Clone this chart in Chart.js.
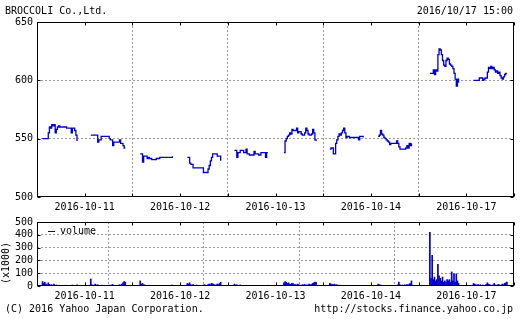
<!DOCTYPE html>
<html><head><meta charset="utf-8">
<script src="https://cdn.jsdelivr.net/npm/chart.js@4/dist/chart.umd.min.js"></script>
<style>
html,body{margin:0;padding:0;background:#fff;}
body{width:521px;height:319px;position:relative;overflow:hidden;font-family:"DejaVu Sans Mono",monospace;font-size:10px;color:#000;}
.t{position:absolute;white-space:nowrap;line-height:10px;}
#c1{position:absolute;left:0;top:0;}
#c2{position:absolute;left:0;top:212px;}
</style></head><body>
<canvas id="c1" width="521" height="212"></canvas>
<canvas id="c2" width="521" height="107"></canvas>
<div class="t" style="left:5px;top:6px">BROCCOLI Co.,Ltd.</div>
<div class="t" style="right:8px;top:6px">2016/10/17 15:00</div>
<div class="t" style="left:-15px;top:258px;transform:rotate(-90deg);">(x1000)</div>
<div style="position:absolute;left:48px;top:231px;width:7px;height:1px;background:#0000cc"></div>
<div class="t" style="left:60px;top:226px">volume</div>
<div class="t" style="left:5px;top:304px">(C) 2016 Yahoo Japan Corporation.</div>
<div class="t" style="right:8px;top:304px">http://stocks.finance.yahoo.co.jp</div>
<script>
const dayLabels = ['2016-10-11','2016-10-12','2016-10-13','2016-10-14','2016-10-17'];
const priceTicks = [500, 550, 600, 650];
const volumeTicks = [0, 100, 200, 300, 400, 500];

// 5-minute prices, AM 9:00-11:30, PM 12:30-15:00 (yen)
const price1011am = [550,550,550,550,550,555,560,559,562,561,562,555,558,560,561,560,560,560,560,560,560,559,559,559,559,555,559,559,557,553,548];
const price1011pm = [553,553,553,553,553,553,547,549,549,552,552,552,552,552,552,552,550,549,549,544,547,547,547,547,547,549,546,546,544,542,542];
const price1012am = [null,null,537,537,530,535,535,535,533,534,533,533,532,532,532,532,533,533,533,534,534,534,534,534,534,534,534,534,534,534,535];
const price1012pm = [null,534,534,529,528,528,525,525,525,525,525,525,525,525,525,521,521,521,521,524,527,531,534,537,537,537,537,535,535,535,531];
const price1013am = [null,540,540,534,538,538,540,540,540,538,538,541,537,537,536,536,536,536,539,537,537,537,536,536,538,538,538,538,534,538,538];
const price1013pm = [null,null,538,548,550,552,553,555,554,558,557,557,557,559,555,556,556,554,553,553,555,559,557,554,553,553,554,558,555,549,548];
const price1014am = [null,541,542,542,537,537,546,549,552,554,553,555,557,559,555,551,552,552,551,551,551,551,551,551,551,551,549,552,552,552,551];
const price1014pm = [null,552,553,557,554,553,551,550,549,548,547,545,546,546,546,546,546,548,546,543,541,541,541,541,541,542,544,542,546,544,546];
const price1017am = [null,null,null,null,null,606,606,606,609,605,609,608,622,627,626,622,617,613,612,617,619,618,614,613,612,610,606,601,595,601,598];
const price1017pm = [null,600,600,600,600,600,602,602,602,600,601,602,602,607,611,610,612,610,611,609,607,608,606,607,604,602,601,603,605,606,606];

// 5-minute volume (x1000 shares)
const vol1011am = [35,20,30,15,10,25,12,8,10,6,15,5,8,4,6,3,5,2,4,3,6,2,5,3,4,2,8,5,3,6,10];
const vol1011pm = [55,10,5,8,15,6,10,4,5,3,6,4,3,5,2,4,6,3,8,12,5,4,6,3,5,10,8,15,25,35,30];
const vol1012am = [null,null,40,15,20,10,8,6,5,4,6,3,5,4,3,2,4,3,2,5,3,2,4,2,3,5,2,3,4,6,8];
const vol1012pm = [null,20,15,25,10,8,12,6,5,8,4,6,5,3,4,8,10,6,5,12,15,10,20,18,12,8,10,15,12,20,30];
const vol1013am = [null,15,8,10,6,5,8,4,3,5,4,6,3,4,2,3,5,2,4,3,2,3,4,2,3,5,2,3,4,3,6];
const vol1013pm = [null,null,25,35,30,20,25,15,12,20,18,10,12,8,15,10,8,6,10,8,12,6,10,8,15,10,12,20,25,30,28];
const vol1014am = [null,20,15,12,10,15,8,10,6,8,5,6,4,3,5,2,3,4,2,3,2,4,3,2,3,2,4,3,5,3,4];
const vol1014pm = [null,15,10,8,6,5,4,6,3,5,4,3,2,4,3,5,4,6,8,30,10,6,8,5,10,6,12,8,15,20,40];
const vol1017am = [null,null,null,null,null,420,60,240,50,70,40,50,170,80,60,40,70,30,40,30,50,40,50,30,110,40,95,30,95,40,20];
const vol1017pm = [null,20,15,10,8,12,6,10,5,8,4,6,12,25,15,10,8,6,10,20,8,6,10,12,6,8,15,10,20,25,30];

const priceSessions = [[price1011am,price1011pm],[price1012am,price1012pm],[price1013am,price1013pm],[price1014am,price1014pm],[price1017am,price1017pm]];
const volSessions = [[vol1011am,vol1011pm],[vol1012am,vol1012pm],[vol1013am,vol1013pm],[vol1014am,vol1014pm],[vol1017am,vol1017pm]];

const DAY = 415, OPEN = 24, PM_OFF = 210, STEP = 5;
function toPoints(sessions, breaks){
  const pts = [];
  sessions.forEach((day, d) => {
    day.forEach((arr, s) => {
      arr.forEach((v, k) => pts.push({x: d*DAY + OPEN + s*PM_OFF + k*STEP, y: v}));
      if (breaks) pts.push({x: d*DAY + OPEN + s*PM_OFF + arr.length*STEP - 2, y: null});
    });
  });
  return pts;
}

Chart.defaults.font.family = '"DejaVu Sans Mono", monospace';
Chart.defaults.font.size = 10;
Chart.defaults.color = '#000';
Chart.defaults.animation = false;

const frame = {
  id: 'frame',
  afterDraw(chart){
    const {ctx, chartArea: a, scales} = chart;
    const L = Math.round(a.left)+0.5, R = Math.round(a.right)-0.5, T = Math.round(a.top)+0.5, B = Math.round(a.bottom)-0.5;
    ctx.save();
    ctx.strokeStyle = '#000'; ctx.lineWidth = 1;
    ctx.strokeRect(L, T, R-L, B-T);
    ctx.beginPath();
    scales.x.ticks.forEach(t => {
      const x = Math.round(scales.x.getPixelForValue(t.value))+0.5;
      ctx.moveTo(x, T); ctx.lineTo(x, T+3);
      ctx.moveTo(x, B); ctx.lineTo(x, B-3);
    });
    scales.y.ticks.forEach(t => {
      const y = Math.round(scales.y.getPixelForValue(t.value))+0.5;
      ctx.moveTo(L, y); ctx.lineTo(L+3, y);
      ctx.moveTo(R, y); ctx.lineTo(R-3, y);
    });
    ctx.stroke();
    ctx.restore();
  }
};

function xScale(h){
  return {
    type: 'linear', min: 0, max: 5*DAY, offset: false,
    afterBuildTicks: s => { s.ticks = Array.from({length: 11}, (_, i) => ({value: i*DAY/2})); },
    afterFit: s => { s.height = h; },
    ticks: { autoSkip: false, maxRotation: 0, padding: 4, callback: (v, i) => i % 2 === 1 ? dayLabels[(i-1)/2] : '' },
    grid: { drawTicks: false, lineWidth: 1, color: c => (c.index % 2 === 0 && c.index > 0 && c.index < 10) ? '#999' : 'rgba(0,0,0,0)' },
    border: { display: false, dash: [2, 2] }
  };
}
function yScale(min, max, ticks){
  return {
    min, max,
    afterBuildTicks: s => { s.ticks = ticks.map(v => ({value: v})); },
    afterFit: s => { s.width = 37; },
    ticks: { padding: 4, autoSkip: false },
    grid: { drawTicks: false, color: c => (c.tick && c.tick.value > min && c.tick.value < max) ? '#999' : 'rgba(0,0,0,0)' },
    border: { display: false, dash: [2, 2] }
  };
}

new Chart(document.getElementById('c1'), {
  type: 'line',
  data: { datasets: [{ data: toPoints(priceSessions, true), borderColor: '#0000cc', borderWidth: 1.3, pointRadius: 0, stepped: true, spanGaps: false, fill: false }] },
  options: {
    responsive: false,
    layout: { padding: { top: 22, right: 7, left: 0, bottom: 0 } },
    plugins: { legend: { display: false }, tooltip: { enabled: false } },
    scales: { x: xScale(15), y: yScale(500, 650, priceTicks) }
  },
  plugins: [frame]
});

new Chart(document.getElementById('c2'), {
  type: 'bar',
  data: { datasets: [{ data: toPoints(volSessions, false), backgroundColor: '#0000cc', borderWidth: 0, barThickness: 1 }] },
  options: {
    responsive: false,
    layout: { padding: { top: 5, right: 7, left: 0, bottom: 0 } },
    plugins: { legend: { display: false }, tooltip: { enabled: false } },
    scales: { x: xScale(33), y: yScale(0, 500, volumeTicks) }
  },
  plugins: [frame]
});
</script>
</body></html>
